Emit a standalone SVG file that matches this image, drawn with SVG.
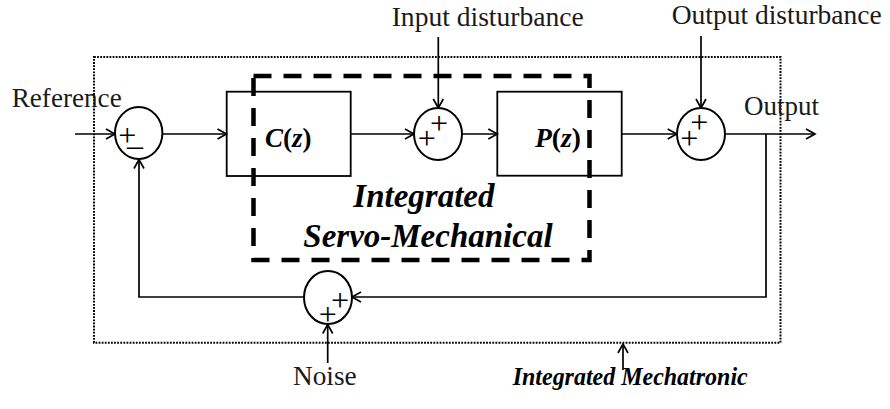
<svg xmlns="http://www.w3.org/2000/svg" width="890" height="409" viewBox="0 0 890 409">
<style>
  .bg { fill: #ffffff; }
  .ln { fill: none; stroke: #000; stroke-width: 1.7; }
  .sum { fill: #fff; stroke: #000; stroke-width: 2; }
  .box { fill: none; stroke: #000; stroke-width: 1.8; }
  .dot { fill: none; stroke: #000; stroke-width: 2; stroke-dasharray: 1.8 1.3; }
  .dash { fill: none; stroke: #000; stroke-width: 4.5; stroke-dasharray: 18 12; }
  .t { font-family: "Liberation Serif", "Times New Roman", serif; font-size: 27.5px; fill: #1a1a1a; }
  .sg { font-family: "Liberation Serif", "Times New Roman", serif; font-size: 32px; fill: #000; text-anchor: middle; }
  .bi { font-family: "Liberation Serif", "Times New Roman", serif; font-weight: bold; font-style: italic; fill: #000; }
  .bu { font-style: normal; }
</style>
<defs>
  <marker id="arr" markerUnits="userSpaceOnUse" markerWidth="12" markerHeight="12" refX="10" refY="6" orient="auto">
    <path d="M1,1 L10,6 L1,11" fill="none" stroke="#000" stroke-width="1.7"/>
  </marker>
</defs>
<rect class="bg" x="0" y="0" width="890" height="409"/>

<g id="mechatronic-boundary">
  <rect class="dot" x="94" y="57" width="686.5" height="285.7"/>
</g>

<g id="servo-mechanical-boundary">
  <rect class="dash" x="253.5" y="76" width="336" height="184"/>
</g>

<g id="connectors">
  <line class="ln" x1="75" y1="134" x2="115" y2="134" marker-end="url(#arr)"/>
  <line class="ln" x1="162.5" y1="134" x2="226.5" y2="134" marker-end="url(#arr)"/>
  <line class="ln" x1="350.7" y1="134" x2="414" y2="134" marker-end="url(#arr)"/>
  <line class="ln" x1="438.3" y1="37" x2="438.3" y2="108" marker-end="url(#arr)"/>
  <line class="ln" x1="462" y1="134" x2="497.3" y2="134" marker-end="url(#arr)"/>
  <line class="ln" x1="621.7" y1="134" x2="676.7" y2="134" marker-end="url(#arr)"/>
  <line class="ln" x1="701" y1="36" x2="701" y2="108" marker-end="url(#arr)"/>
  <line class="ln" x1="725" y1="134" x2="815" y2="134" marker-end="url(#arr)"/>
  <polyline class="ln" points="766,134 766,297 352,297" marker-end="url(#arr)"/>
  <polyline class="ln" points="304,297 139,297 139,159.5" marker-end="url(#arr)"/>
  <line class="ln" x1="327.7" y1="363" x2="327.7" y2="324.5" marker-end="url(#arr)"/>
  <line class="ln" x1="623" y1="370" x2="623" y2="344" marker-end="url(#arr)"/>
</g>

<g id="sum1">
  <ellipse class="sum" cx="138.7" cy="133" rx="23.7" ry="26"/>
  <text class="sg" x="127.3" y="145.5">+</text>
  <text class="sg" x="135" y="145">_</text>
</g>

<g id="controller">
  <rect class="box" x="226.7" y="91.7" width="124" height="84.3"/>
  <text class="bi" x="265" y="146.7" font-size="27">C<tspan class="bu">(</tspan>z<tspan class="bu">)</tspan></text>
</g>

<g id="sum2">
  <ellipse class="sum" cx="438" cy="134" rx="24" ry="26"/>
  <text class="sg" x="426.7" y="148.5">+</text>
  <text class="sg" x="439" y="134">+</text>
</g>

<g id="plant">
  <rect class="box" x="497.3" y="91.7" width="124.4" height="84"/>
  <text class="bi" x="535" y="146.7" font-size="27.5">P<tspan class="bu">(</tspan>z<tspan class="bu">)</tspan></text>
</g>

<g id="sum3">
  <ellipse class="sum" cx="701" cy="134" rx="24" ry="26"/>
  <text class="sg" x="689.3" y="149">+</text>
  <text class="sg" x="699.3" y="132.5">+</text>
</g>

<g id="sum4">
  <ellipse class="sum" cx="328" cy="297.5" rx="24" ry="26.5"/>
  <text class="sg" x="327.7" y="325">+</text>
  <text class="sg" x="340" y="310.5">+</text>
</g>

<g id="labels">
  <text class="t" x="11.7" y="106.7" textLength="110" lengthAdjust="spacingAndGlyphs">Reference</text>
  <text class="t" x="391.7" y="26" textLength="192" lengthAdjust="spacingAndGlyphs">Input disturbance</text>
  <text class="t" x="671.7" y="24" font-size="26" textLength="210" lengthAdjust="spacingAndGlyphs">Output disturbance</text>
  <text class="t" x="744" y="115" textLength="75" lengthAdjust="spacingAndGlyphs">Output</text>
  <text class="t" x="293" y="385" textLength="63.7" lengthAdjust="spacingAndGlyphs">Noise</text>
  <text class="bi" x="353.3" y="206.7" font-size="33">Integrated</text>
  <text class="bi" x="303.3" y="246.7" font-size="33">Servo-Mechanical</text>
  <text class="bi" x="512.7" y="385" font-size="26" textLength="235" lengthAdjust="spacingAndGlyphs">Integrated Mechatronic</text>
</g>
</svg>
